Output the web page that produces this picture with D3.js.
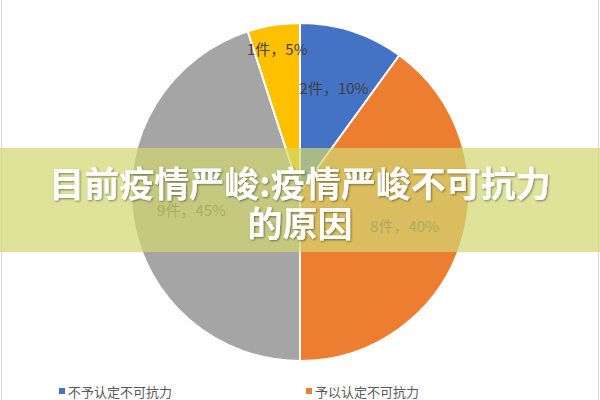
<!DOCTYPE html>
<html><head><meta charset="utf-8">
<script src="https://cdn.jsdelivr.net/npm/d3@7"></script>
<style>body{margin:0;background:#fff;}svg{display:block;}</style>
</head><body>
<svg id="c" width="600" height="400"></svg>
<script>
const categories = ["不予认定不可抗力", "予以认定不可抗力", "其他", "未说明"];
const counts = [2, 8, 9, 1];
const percents = [10, 40, 45, 5];
const colors = ["#4472C4", "#ED7D31", "#A5A5A5", "#FFC000"];
const legendShown = ["不予认定不可抗力", "予以认定不可抗力"];
const titleLines = ["目前疫情严峻:疫情严峻不可抗力", "的原因"];

const svg = d3.select("#c");
const W = 600, H = 400;
svg.append("rect").attr("x", 1.5).attr("y", -2).attr("width", W - 3).attr("height", H + 4)
  .attr("fill", "#fff").attr("stroke", "#d9d9d9").attr("stroke-width", 1);

const cx = 300, cy = 192, R = 169;
const data = categories.map((c, i) => ({cat: c, n: counts[i], p: percents[i], col: colors[i]}));
const pie = d3.pie().value(d => d.n).sort(null);
const arcs = pie(data);
const arc = d3.arc().innerRadius(0).outerRadius(R);
const g = svg.append("g").attr("transform", `translate(${cx},${cy})`);
g.selectAll("path").data(arcs).join("path")
  .attr("d", arc).attr("fill", d => d.data.col)
  .attr("stroke", "#fff").attr("stroke-width", 2).attr("stroke-linejoin", "round");

const total = d3.sum(counts);
const labelArc = d3.arc().innerRadius(R * 0.65).outerRadius(R * 0.65);
const outerLabelArc = d3.arc().innerRadius(R * 0.86).outerRadius(R * 0.86);
g.selectAll("text.lbl").data(arcs).join("text").attr("class", "lbl")
  .attr("transform", d => {
    const a = (d.data.n / total < 0.08 ? outerLabelArc : labelArc).centroid(d);
    return `translate(${a[0]},${a[1]})`;
  })
  .attr("text-anchor", "middle").attr("dominant-baseline", "central")
  .attr("font-family", "'Noto Sans CJK SC', 'Noto Sans', sans-serif")
  .attr("font-size", 15).attr("fill", "#404040")
  .text(d => `${d.data.n}件，${d.data.p}%`);

// legend
const lx = d3.scalePoint().domain(legendShown).range([59, 306]);
const lg = svg.append("g");
legendShown.forEach(name => {
  const i = categories.indexOf(name);
  lg.append("rect").attr("x", lx(name)).attr("y", 388).attr("width", 6).attr("height", 6).attr("fill", colors[i]);
  lg.append("text").attr("x", lx(name) + 9).attr("y", 391).attr("dominant-baseline", "central")
    .attr("font-family", "'Noto Sans CJK SC', 'Noto Sans', sans-serif")
    .attr("font-size", 13).attr("fill", "#595959").text(name);
});

// overlay band
svg.append("rect").attr("x", 0).attr("y", 148).attr("width", W).attr("height", 104)
  .attr("fill", "rgb(210,216,113)").attr("fill-opacity", 0.71);

const defs = svg.append("defs");
const f = defs.append("filter").attr("id", "sh").attr("x", "-10%").attr("y", "-30%").attr("width", "120%").attr("height", "160%");
f.append("feDropShadow").attr("dx", 1).attr("dy", 1).attr("stdDeviation", 1.2).attr("flood-color", "#000").attr("flood-opacity", 0.45);

svg.append("g").selectAll("text").data(titleLines).join("text")
  .attr("x", W / 2).attr("y", (d, i) => 181 + i * 40)
  .attr("text-anchor", "middle").attr("dominant-baseline", "central")
  .attr("font-family", "'Noto Sans CJK SC', sans-serif").attr("font-weight", 700)
  .attr("font-size", 35).attr("fill", "#fff").attr("filter", "url(#sh)")
  .text(d => d);
</script>
</body></html>
